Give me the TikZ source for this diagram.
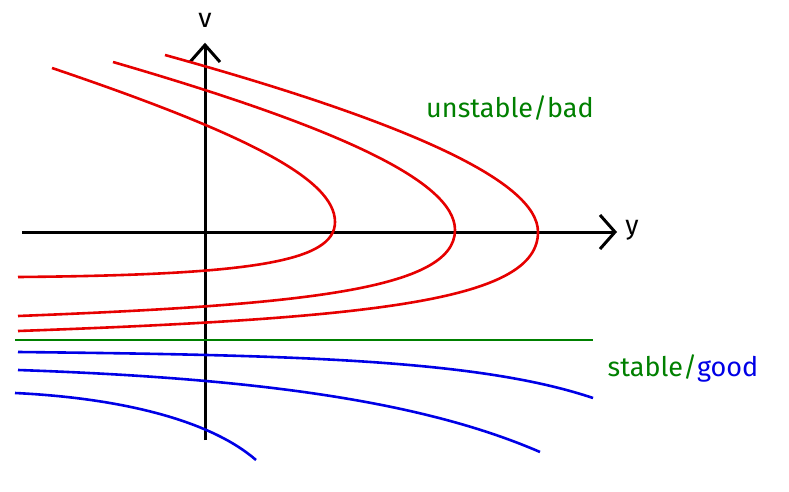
\documentclass[tikz,border=0pt]{standalone}
\usepackage{fontspec}
\setmainfont{Fira Sans}
\definecolor{gr}{RGB}{0,128,0}
\definecolor{rd}{RGB}{230,0,0}
\definecolor{bl}{RGB}{0,0,230}
\begin{document}
\begin{tikzpicture}[x=1pt,y=-1pt,
  ax/.style={black,line width=3pt},
  rc/.style={rd,line width=2.6pt},
  bc/.style={bl,line width=2.6pt},
  lbl/.style={font=\fontsize{27}{32}\selectfont,inner sep=0pt}]
\useasboundingbox (0,0) rectangle (789,492);
% axes
\coordinate (xl) at (22,232); \coordinate (xr) at (615,232);
\coordinate (yb) at (205,440); \coordinate (yt) at (205,45);
\draw[ax] (xl) -- (xr);
\draw[ax] (600,215) -- (xr) -- (600,249);
\draw[ax] (yb) -- (yt);
\draw[ax] (190,62) -- (yt) -- (220,62);
\node[lbl] (v) at (205,20) {v};
\node[lbl] (y) at (632,230) {y};
% red curves
\draw[rc] (52,68) .. controls (250,135) and (335,180) .. (335,222) .. controls (335,262) and (250,275) .. (18,277);
\draw[rc] (113,62) .. controls (330,125) and (455,180) .. (455,230) .. controls (455,290) and (300,305) .. (18,316);
\draw[rc] (165,55) .. controls (400,120) and (538,180) .. (538,232) .. controls (538,300) and (380,318) .. (18,331);
% green line
\draw[gr,line width=2.6pt] (15,340) -- (593,340);
% blue curves
\draw[bc] (18,352) .. controls (300,355) and (480,360) .. (593,398);
\draw[bc] (18,370) .. controls (250,378) and (420,400) .. (540,452);
\draw[bc] (15,393) .. controls (120,398) and (210,420) .. (256,460);
% labels
\node[lbl,text=gr] (u) at (510,108) {unstable/bad};
\node[lbl] (s) at (683,368) {\textcolor{gr}{stable/}\textcolor{bl}{good}};
\end{tikzpicture}
\end{document}
